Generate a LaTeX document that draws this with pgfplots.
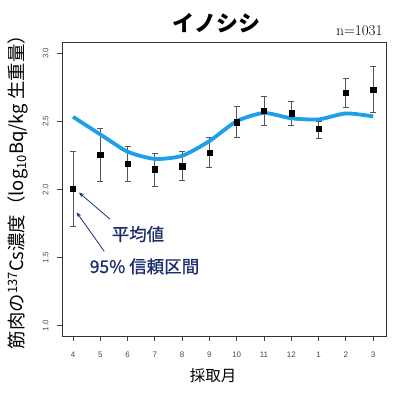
\documentclass[border=0pt]{standalone}
\usepackage{pgfplots}
\pgfplotsset{compat=1.18}
\usepackage{pgfplotstable}
\usepackage{fontspec}
\newfontfamily\helv{Liberation Sans}
\newfontfamily\cjk{Noto Sans CJK JP}
\newfontfamily\cjkm{Noto Sans CJK JP}[FakeBold=0.8]
\usetikzlibrary{arrows.meta}
\definecolor{lineblue}{RGB}{30,160,232}
\definecolor{navy}{RGB}{28,45,110}
\definecolor{tickgray}{RGB}{75,75,75}
\definecolor{bargray}{RGB}{85,85,85}

\pgfplotstableread{
x y ep em
0 2.005 0.275 0.275
1 2.254 0.196 0.194
2 2.188 0.132 0.132
3 2.149 0.118 0.124
4 2.171 0.107 0.107
5 2.269 0.110 0.110
6 2.494 0.114 0.113
7 2.577 0.104 0.110
8 2.561 0.089 0.091
9 2.448 0.052 0.071
10 2.710 0.106 0.110
11 2.735 0.166 0.168
}\pts

\pgfplotstableread{
x y
0 2.534
1 2.405
2 2.278
3 2.225
4 2.248
5 2.356
6 2.502
7 2.562
8 2.523
9 2.515
10 2.559
11 2.537
}\fitline

\begin{document}
\begin{tikzpicture}
\path[use as bounding box] (0pt,0pt) rectangle (400pt,400pt);
\begin{axis}[
  at={(62pt,63.5pt)}, anchor=south west,
  scale only axis, width=324pt, height=294.5pt,
  xmin=-0.403, xmax=11.47, ymin=0.9216, ymax=3.083,
  xtick={0,...,11}, xticklabels={4,5,6,7,8,9,10,11,12,1,2,3},
  ytick={1,1.5,2,2.5,3}, yticklabels={1.0,1.5,2.0,2.5,3.0},
  tick align=outside, tick pos=left, major tick length=4.5pt,
  axis line style={draw=black!80, line width=0.9pt},
  every tick/.style={black!75, line width=0.8pt},
  ticklabel style={font=\helv\fontsize{8}{9}\selectfont, text=tickgray},
  yticklabel style={rotate=90, anchor=south},
  xticklabel shift=7pt, yticklabel shift=5.5pt,
  clip=false,
]
\addplot[only marks, mark=square*, mark size=2.6pt, black,
  error bars/.cd, y dir=both, y explicit,
  error bar style={bargray, line width=0.9pt},
  error mark options={rotate=90, mark size=3pt, line width=0.9pt, bargray}]
  table[x=x, y=y, y error plus=ep, y error minus=em] {\pts};
\addplot[lineblue, line width=3.8pt, smooth, tension=0.4, no marks] table[x=x,y=y] {\fitline};
\addplot[only marks, mark=square*, mark size=2.6pt, black] table[x=x,y=y] {\pts};

\draw[navy, line width=0.8pt, -{Stealth[length=5pt,width=4pt]}] (axis cs:1.355,1.783) -- (axis cs:0.22,1.978);
\draw[navy, line width=0.8pt, -{Stealth[length=5pt,width=4pt]}] (axis cs:1.147,1.546) -- (axis cs:0.136,1.832);
\node[text=navy, font=\cjkm\fontsize{17.5}{20}\selectfont] at (axis cs:2.38,1.673) {平均値};
\node[text=navy, font=\cjkm\fontsize{17.5}{20}\selectfont] at (axis cs:2.62,1.436) {95\% 信頼区間};
\end{axis}
\node[font=\cjk\bfseries\fontsize{22}{26}\selectfont] at (216.5pt,377pt) {イノシシ};
\node[anchor=base east, inner sep=0pt, font=\fontsize{15}{18}\selectfont] at (382.7pt,364.3pt) {n=1031};
\node[rotate=90, font=\cjk\fontsize{18.4}{22}\selectfont] at (18pt,212.5pt) {筋肉の\textsuperscript{137}Cs濃度（log\textsubscript{10}Bq/kg 生重量）};
\node[font=\cjk\fontsize{15.5}{18}\selectfont] at (213pt,24.3pt) {採取月};
\end{tikzpicture}
\end{document}
